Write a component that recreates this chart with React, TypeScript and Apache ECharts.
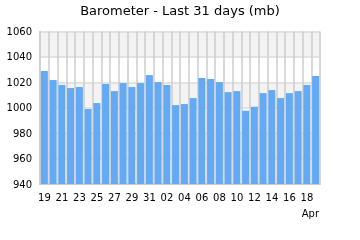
import React, { useEffect, useRef } from "react";
import * as echarts from "echarts";

const days: string[] = [
  "19", "20", "21", "22", "23", "24", "25", "26", "27", "28", "29", "30", "31",
  "01", "02", "03", "04", "05", "06", "07", "08", "09", "10", "11", "12", "13",
  "14", "15", "16", "17", "18", "19",
];
const pressure: number[] = [
  1028.9, 1021.8, 1017.9, 1015.5, 1016.3, 999.0, 1003.7, 1018.7, 1013.1, 1019.4,
  1016.3, 1019.4, 1025.7, 1020.2, 1017.9, 1002.1, 1002.9, 1007.6, 1023.4, 1022.6,
  1020.2, 1012.3, 1013.1, 997.7, 1000.8, 1011.5, 1013.9, 1007.6, 1011.5, 1013.1,
  1017.9, 1025.0,
];
const yMin = 940;
const yMax = 1060;
const yStep = 20;
const titleText = "Barometer - Last 31 days (mb)";
const monthLabel = "Apr";

export default function App() {
  const ref = useRef<HTMLDivElement>(null);
  useEffect(() => {
    if (!ref.current) return;
    const chart = echarts.init(ref.current, undefined, { renderer: "svg" });
    const font = "DejaVu Sans";
    chart.setOption({
      animation: false,
      textStyle: { fontFamily: font },
      title: {
        text: titleText,
        left: "center",
        top: 4,
        padding: 0,
        textStyle: { fontFamily: font, fontSize: 13, fontWeight: "normal", color: "#000" },
      },
      grid: { left: 40, right: 40, top: 31.5, bottom: 56, containLabel: false },
      xAxis: {
        type: "category",
        data: days,
        boundaryGap: true,
        axisLine: { show: true, lineStyle: { color: "#cccccc", width: 2 } },
        axisTick: { show: false },
        axisLabel: { interval: 1, fontSize: 10, color: "#000", margin: 8, fontFamily: font },
        splitLine: { show: true, interval: 0, lineStyle: { color: "#cccccc", width: 1.5 } },
      },
      yAxis: {
        type: "value",
        min: yMin,
        max: yMax,
        interval: yStep,
        axisLine: { show: true, lineStyle: { color: "#cccccc", width: 1.5 } },
        axisTick: { show: false },
        axisLabel: {
          fontSize: 10,
          color: "#000",
          margin: 8,
          fontFamily: font,
          formatter: (v: number) => String(v),
        },
        splitLine: { show: true, lineStyle: { color: "#dddddd", width: 1.5 } },
        splitArea: { show: true, areaStyle: { color: ["#ffffff", "#f3f3f3"] } },
      },
      graphic: [
        {
          type: "text",
          right: 41,
          top: 208,
          style: { text: monthLabel, fontSize: 10, fill: "#000", fontFamily: font },
        },
      ],
      series: [
        {
          type: "bar",
          data: pressure,
          barCategoryGap: "20%",
          itemStyle: { color: "#63a9f3" },
        },
      ],
    });
    return () => chart.dispose();
  }, []);
  return (
    <div
      ref={ref}
      style={{ position: "fixed", left: 0, top: 0, width: 360, height: 240 }}
    />
  );
}
